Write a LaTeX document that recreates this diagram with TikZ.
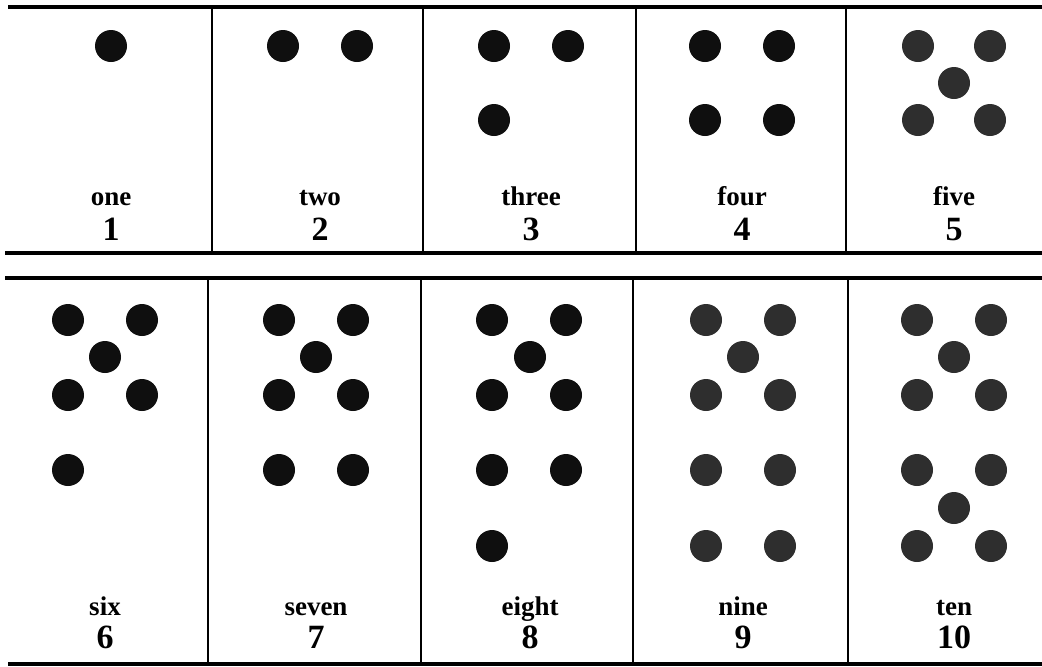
\documentclass[tikz,border=0pt]{standalone}
\usepackage{fontspec}
\setmainfont{Liberation Serif}
\begin{document}
\begin{tikzpicture}[x=0.5pt,y=-0.5pt,
  rule/.style={line width=1.6pt},
  sep/.style={line width=1.2pt},
  dot/.style={fill=black!94},
  paledot/.style={fill=black!82},
  word/.style={font=\bfseries\fontsize{13.5}{16}\selectfont,anchor=base},
  numeral/.style={font=\bfseries\fontsize{17}{20}\selectfont,anchor=base}]
  \useasboundingbox (0,0) rectangle (1042,666);
  % two rows of cells: dots above, name and numeral below
  \draw[rule] (8,7) -- (1042,7);
  \draw[rule] (5,253) -- (1042,253);
  \draw[rule] (5,278) -- (1042,278);
  \draw[rule] (8,664) -- (1042,664);
  \foreach \x in {212,423,636,846} \draw[sep] (\x,7) -- (\x,253);
  \foreach \x in {208,421,633,848} \draw[sep] (\x,278) -- (\x,664);
  \foreach \p in {(111,46), (283,46),(357,46), (494,46),(568,46),(494,120),
                  (705,46),(779,46),(705,120),(779,120)}
    \fill[dot] \p circle (8pt);
  \foreach \p in {(918,46),(990,46),(954,83),(918,120),(990,120)}
    \fill[paledot] \p circle (8pt);
  \foreach \p in {(68,320),(142,320),(105,357),(68,395),(142,395),(68,470),
                  (279,320),(353,320),(316,357),(279,395),(353,395),(279,470),(353,470),
                  (492,320),(566,320),(530,357),(492,395),(566,395),(492,470),(566,470),(492,546)}
    \fill[dot] \p circle (8pt);
  \foreach \p in {(706,320),(780,320),(743,357),(706,395),(780,395),(706,470),(780,470),(706,546),(780,546),
                  (917,320),(991,320),(954,357),(917,395),(991,395),(917,470),(991,470),(954,508),(917,546),(991,546)}
    \fill[paledot] \p circle (8pt);
  \foreach \x/\w/\n in {111/one/1, 320/two/2, 531/three/3, 742/four/4, 954/five/5}{
    \node[word] (w\n) at (\x,205) {\w};
    \node[numeral] (n\n) at (\x,240) {\n};
  }
  \foreach \x/\w/\n in {105/six/6, 316/seven/7, 530/eight/8, 743/nine/9, 954/ten/10}{
    \node[word] (w\n) at (\x,615) {\w};
    \node[numeral] (n\n) at (\x,648) {\n};
  }
\end{tikzpicture}
\end{document}
